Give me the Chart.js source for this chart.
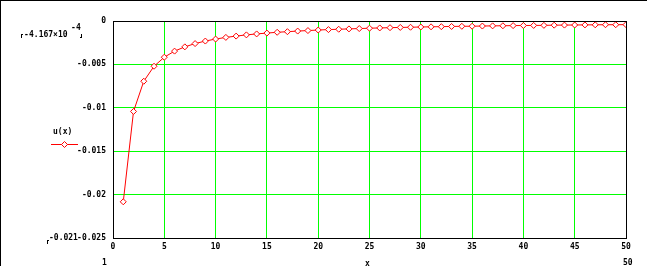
<!DOCTYPE html>
<html>
<head>
<meta charset="utf-8">
<script src="https://cdn.jsdelivr.net/npm/chart.js@4"></script>
<style>
  html, body { margin: 0; padding: 0; background: #fff; }
  #wrap { width: 647px; height: 266px; position: relative; }
</style>
</head>
<body>
<div id="wrap"><canvas id="chart" width="647" height="266"></canvas></div>
<script>
const xValues = [
  1, 2, 3, 4, 5, 6, 7, 8, 9, 10,
  11, 12, 13, 14, 15, 16, 17, 18, 19, 20,
  21, 22, 23, 24, 25, 26, 27, 28, 29, 30,
  31, 32, 33, 34, 35, 36, 37, 38, 39, 40,
  41, 42, 43, 44, 45, 46, 47, 48, 49, 50,
];
const uValues = [
  -0.02083, -0.01042, -0.00694, -0.00521, -0.00417, -0.00347, -0.00298, -0.0026, -0.00231, -0.00208,
  -0.00189, -0.00174, -0.0016, -0.00149, -0.00139, -0.0013, -0.00123, -0.00116, -0.0011, -0.00104,
  -0.00099, -0.00095, -0.00091, -0.00087, -0.00083, -0.0008, -0.00077, -0.00074, -0.00072, -0.00069,
  -0.00067, -0.00065, -0.00063, -0.00061, -0.0006, -0.00058, -0.00056, -0.00055, -0.00053, -0.00052,
  -0.00051, -0.0005, -0.00048, -0.00047, -0.00046, -0.00045, -0.00044, -0.00043, -0.00043, -0.00042,
];
const xTicks = ["0", "5", "10", "15", "20", "25", "30", "35", "40", "45", "50"];
const yTicks = ["0", "-0.005", "-0.01", "-0.015", "-0.02", "-0.025"];

const FONT = "bold 8px 'DejaVu Sans Mono', monospace";
const tickFont = { family: "'DejaVu Sans Mono', monospace", size: 8, weight: "bold" };

// find the label text for a tick value
const label = (list, v) => list.find((t) => Math.abs(Number(t) - v) < 1e-9) || "";

// extra texts around the plot: range markers, axis name and legend
const extras = {
  id: "extras",
  afterDraw(chart) {
    const ctx = chart.ctx;
    const a = chart.chartArea;
    ctx.save();
    // outer frame (top and left only)
    ctx.fillStyle = "#000";
    ctx.fillRect(0, 0, chart.width, 1);
    ctx.fillRect(0, 0, 1, chart.height);
    // plot box
    ctx.strokeStyle = "#000";
    ctx.lineWidth = 1;
    ctx.strokeRect(Math.round(a.left) + 0.5, Math.round(a.top) + 0.5,
      Math.round(a.right - a.left), Math.round(a.bottom - a.top));

    ctx.font = FONT;
    ctx.textBaseline = "middle";
    ctx.fillStyle = "#000";
    ctx.textAlign = "left";
    ctx.fillText("-", 24, 35);
    ctx.fillText("4.167×10", 29, 35);
    ctx.fillText("-", 71, 28);
    ctx.fillText("4", 76, 28);
    ctx.fillText("-0.021", 49, 238);
    ctx.fillText("1", 102, 263);
    ctx.fillText("50", 623, 263);
    ctx.fillText("x", 365, 264);
    ctx.fillText("u(x)", 53, 132);
    // brackets
    ctx.fillRect(21, 34, 1, 4);
    ctx.fillRect(21, 34, 2, 1);
    ctx.fillRect(81, 34, 1, 4);
    ctx.fillRect(80, 37, 2, 1);
    ctx.fillRect(47, 240, 1, 4);
    ctx.fillRect(47, 240, 2, 1);

    // legend sample
    ctx.strokeStyle = "#ff0000";
    ctx.beginPath();
    ctx.moveTo(51, 144.5);
    ctx.lineTo(78, 144.5);
    ctx.stroke();
    ctx.fillStyle = "#fff";
    ctx.beginPath();
    ctx.moveTo(64.5, 141.5);
    ctx.lineTo(67.5, 144.5);
    ctx.lineTo(64.5, 147.5);
    ctx.lineTo(61.5, 144.5);
    ctx.closePath();
    ctx.fill();
    ctx.stroke();
    ctx.restore();
  },
};

new Chart(document.getElementById("chart"), {
  type: "line",
  data: {
    datasets: [
      {
        label: "u(x)",
        data: xValues.map((x, i) => ({ x: x, y: uValues[i] })),
        borderColor: "#ff0000",
        borderWidth: 1,
        backgroundColor: "#ffffff",
        pointStyle: "rectRot",
        pointRadius: 3,
        pointBorderColor: "#ff0000",
        pointBorderWidth: 1,
        pointBackgroundColor: "#ffffff",
        tension: 0,
      },
    ],
  },
  options: {
    responsive: false,
    animation: false,
    layout: { padding: { left: 0, right: 21, top: 21, bottom: 0 } },
    plugins: {
      legend: { display: false },
      tooltip: { enabled: false },
    },
    scales: {
      x: {
        type: "linear",
        min: 0,
        max: 50,
        afterFit(scale) { scale.height = 28; },
        grid: { color: "#00ff00", lineWidth: 1, drawTicks: false },
        border: { display: true, color: "#000" },
        ticks: {
          stepSize: 5,
          color: "#000",
          font: tickFont,
          padding: 4,
          maxRotation: 0,
          autoSkip: false,
          callback: (v) => label(xTicks, v),
        },
      },
      y: {
        type: "linear",
        min: -0.025,
        max: 0,
        afterFit(scale) { scale.width = 113; },
        grid: { color: "#00ff00", lineWidth: 1, drawTicks: false },
        border: { display: true, color: "#000" },
        ticks: {
          stepSize: 0.005,
          color: "#000",
          font: tickFont,
          padding: 7,
          autoSkip: false,
          callback: (v) => label(yTicks, v),
        },
      },
    },
  },
  plugins: [extras],
});
</script>
</body>
</html>
